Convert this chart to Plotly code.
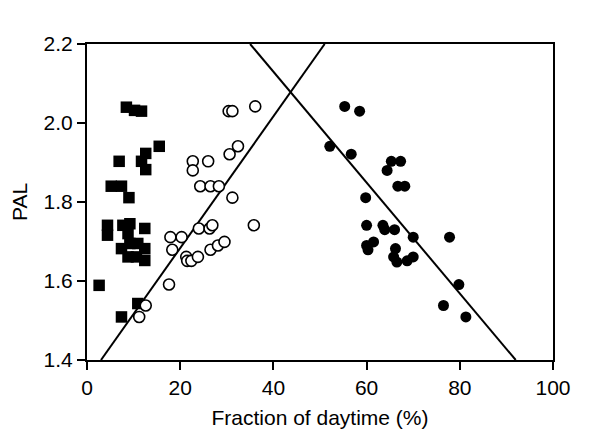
import plotly.graph_objects as go

# group 1: filled squares
sq_x = [8.45, 10.2, 11.7, 15.5, 12.6, 6.9, 11.7, 12.6, 5.2, 7.4, 9.0,
        4.4, 4.4, 7.7, 9.2, 12.4, 8.8, 7.4, 9.2, 10.9, 12.4, 8.8, 10.6, 12.4,
        2.6, 10.9, 7.4]
sq_y = [2.04, 2.032, 2.03, 1.941, 1.923, 1.903, 1.903, 1.882, 1.84, 1.84, 1.811,
        1.741, 1.716, 1.741, 1.745, 1.733, 1.72, 1.682, 1.695, 1.695, 1.682, 1.661, 1.661, 1.652,
        1.589, 1.543, 1.509]

# group 2: open circles
oc_x = [30.4, 31.2, 36.1, 32.4, 30.6, 22.7, 22.7, 26.0, 24.3, 26.5, 28.3, 31.2,
        24.0, 26.3, 26.9, 35.8, 17.9, 20.3, 18.3, 21.3, 21.5, 22.4, 23.8, 26.5,
        28.1, 29.5, 17.6, 12.6, 11.2]
oc_y = [2.03, 2.03, 2.042, 1.941, 1.921, 1.903, 1.88, 1.903, 1.84, 1.84, 1.84, 1.811,
        1.733, 1.733, 1.741, 1.741, 1.711, 1.711, 1.679, 1.661, 1.651, 1.651, 1.661, 1.679,
        1.69, 1.699, 1.591, 1.538, 1.509]

# group 3: filled circles
fc_x = [55.3, 58.5, 52.1, 56.7, 65.3, 67.3, 64.4, 66.7, 68.2, 59.8, 60.0, 63.5,
        63.9, 66.0, 70.0, 77.8, 60.0, 61.5, 60.3, 66.2, 65.8, 66.5, 68.7, 70.0,
        79.8, 76.5, 81.3]
fc_y = [2.042, 2.03, 1.941, 1.921, 1.903, 1.903, 1.88, 1.84, 1.84, 1.811, 1.741, 1.741,
        1.73, 1.73, 1.711, 1.711, 1.69, 1.699, 1.679, 1.682, 1.661, 1.648, 1.651, 1.661,
        1.591, 1.538, 1.509]

# the two fitted lines
up_x = [3.0, 51.0]
up_y = [1.4, 2.2]
down_x = [35.0, 92.0]
down_y = [2.2, 1.4]

font = "Liberation Sans, Arial, sans-serif"

fig = go.Figure()
fig.add_trace(go.Scatter(x=up_x, y=up_y, mode="lines",
                         line=dict(color="black", width=2)))
fig.add_trace(go.Scatter(x=down_x, y=down_y, mode="lines",
                         line=dict(color="black", width=2)))
fig.add_trace(go.Scatter(x=sq_x, y=sq_y, mode="markers",
                         marker=dict(symbol="square", size=11.5, color="black",
                                     line=dict(width=0))))
fig.add_trace(go.Scatter(x=oc_x, y=oc_y, mode="markers",
                         marker=dict(symbol="circle", size=11, color="white",
                                     line=dict(color="black", width=1.6))))
fig.add_trace(go.Scatter(x=fc_x, y=fc_y, mode="markers",
                         marker=dict(symbol="circle", size=11, color="black",
                                     line=dict(width=0))))

axis_common = dict(showline=True, linecolor="black", linewidth=2, mirror=True,
                   ticks="outside", ticklen=8, tickwidth=2, tickcolor="black",
                   showgrid=False, zeroline=False, automargin=False,
                   tickfont=dict(family=font, size=21, color="black"))

# page body has an 8px margin, so the figure is a bit smaller than the window
fig.update_layout(
    width=584, height=422,
    margin=dict(l=79, r=39, t=36, b=70),
    plot_bgcolor="white", paper_bgcolor="white",
    showlegend=False,
    font=dict(family=font, size=21, color="black"),
    xaxis=dict(range=[0, 100], dtick=20, tick0=0,
               title=dict(text="Fraction of daytime (%)", standoff=12,
                          font=dict(family=font, size=21)),
               **axis_common),
    yaxis=dict(range=[1.4, 2.2], dtick=0.2, tick0=1.4, tickformat=".1f",
               title=dict(text="PAL", standoff=22,
                          font=dict(family=font, size=21)),
               **axis_common),
)

fig.write_html("out.html")
